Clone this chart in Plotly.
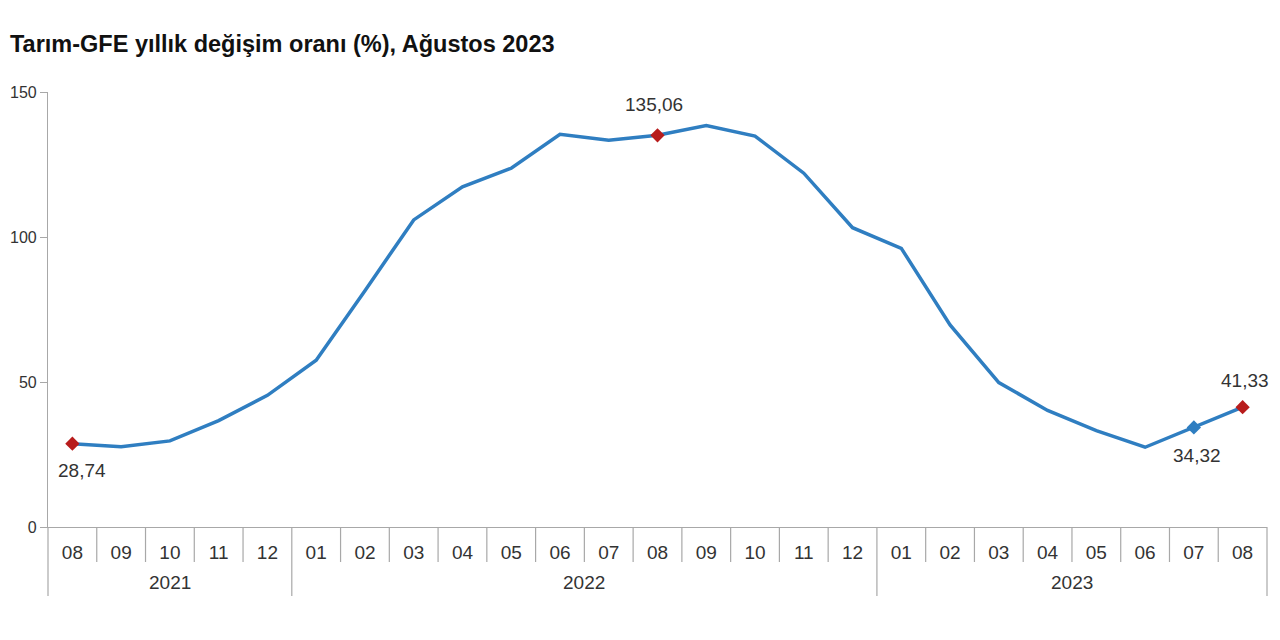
import plotly.graph_objects as go

# ---- data ----
months = ["08", "09", "10", "11", "12",
          "01", "02", "03", "04", "05", "06", "07", "08", "09", "10", "11", "12",
          "01", "02", "03", "04", "05", "06", "07", "08"]
years = ["2021"] * 5 + ["2022"] * 12 + ["2023"] * 8
values = [28.74, 27.7, 29.7, 36.7, 45.4,
          57.5, 81.5, 105.9, 117.3, 123.7, 135.4, 133.4, 135.06, 138.4, 134.8, 122.0, 103.2,
          96.1, 69.7, 49.8, 40.2, 33.2, 27.5, 34.32, 41.33]
title_text = "Tarım-GFE yıllık değişim oranı (%), Ağustos 2023"
red_idx = [0, 12, 24]
blue_idx = [23]
label_idx = [0, 12, 23, 24]
y_ticks = [0, 50, 100, 150]

# ---- style ----
FONT = "Arial, 'Liberation Sans', sans-serif"
LINE_BLUE = "#2F7EC1"
RED = "#B81C1C"
GREY = "#A8A8A8"
TXT = "#333333"

# page body has an 8px margin; figure sized to fit the 1280x640 window
W, H = 1272, 632
ML, MR, MT, MB = 40, 13, 84, 113
plot_w = W - ML - MR
plot_h = H - MT - MB

n = len(values)
x = list(range(n))

fig = go.Figure()
fig.add_trace(go.Scatter(x=x, y=values, mode="lines",
                         line=dict(color=LINE_BLUE, width=3.5), hoverinfo="skip"))
fig.add_trace(go.Scatter(x=[x[i] for i in red_idx], y=[values[i] for i in red_idx],
                         mode="markers", marker=dict(symbol="diamond", size=11, color=RED)))
fig.add_trace(go.Scatter(x=[x[i] for i in blue_idx], y=[values[i] for i in blue_idx],
                         mode="markers", marker=dict(symbol="diamond", size=11, color=LINE_BLUE)))

def fmt(v):
    return f"{v:.2f}".replace(".", ",")

# label offsets (px)
offsets = {0: (10, -27), 12: (-4, 31), 23: (3, -28), 24: (2, 27)}
annotations = []
for i in label_idx:
    dx, dy = offsets[i]
    annotations.append(dict(x=x[i], y=values[i], xref="x", yref="y", text=fmt(values[i]),
                            showarrow=False, xshift=dx, yshift=dy,
                            font=dict(family=FONT, size=19, color=TXT)))

# year labels and separators
month_depth = -35 / plot_h
year_depth = -69 / plot_h
shapes = []
groups = []
start = 0
for i in range(1, n + 1):
    if i == n or years[i] != years[start]:
        groups.append((years[start], start, i - 1))
        start = i
for yr, a, b in groups:
    annotations.append(dict(x=(a + b) / 2, y=-55 / plot_h, xref="x", yref="paper",
                            text=yr, showarrow=False, yanchor="middle",
                            font=dict(family=FONT, size=19, color=TXT)))
year_bounds = set([g[1] for g in groups] + [n])
for k in range(0, n + 1):
    depth = year_depth if k in year_bounds else month_depth
    shapes.append(dict(type="line", xref="paper", yref="paper", x0=k / n, x1=k / n,
                       y0=0, y1=depth, line=dict(color=GREY, width=1.2)))

annotations.append(dict(text="<b>" + title_text + "</b>", xref="paper", yref="paper",
                        x=-ML / plot_w, y=(H - 36 - MB) / plot_h,
                        xanchor="left", yanchor="middle",
                        showarrow=False, font=dict(family=FONT, size=23.5, color="#111111")))

fig.update_layout(
    width=W, height=H,
    margin=dict(l=ML, r=MR, t=MT, b=MB, autoexpand=False),
    paper_bgcolor="white", plot_bgcolor="white",
    showlegend=False,
    annotations=annotations,
    shapes=shapes,
    xaxis=dict(range=[-0.5, n - 0.5], tickmode="array", tickvals=x, ticktext=months,
               showgrid=False, zeroline=False, showline=True, linecolor=GREY, linewidth=1.2,
               ticks="", ticklabelstandoff=8, automargin=False,
               tickfont=dict(family=FONT, size=19, color=TXT), fixedrange=True),
    yaxis=dict(range=[0, 150], tickmode="array", tickvals=y_ticks,
               showgrid=False, zeroline=False, showline=True, linecolor=GREY, linewidth=1.2,
               ticks="outside", ticklen=7, tickcolor=GREY, tickwidth=1.2, automargin=False,
               ticklabelstandoff=0,
               tickfont=dict(family=FONT, size=16, color=TXT), fixedrange=True),
)

fig.write_html("out.html")
